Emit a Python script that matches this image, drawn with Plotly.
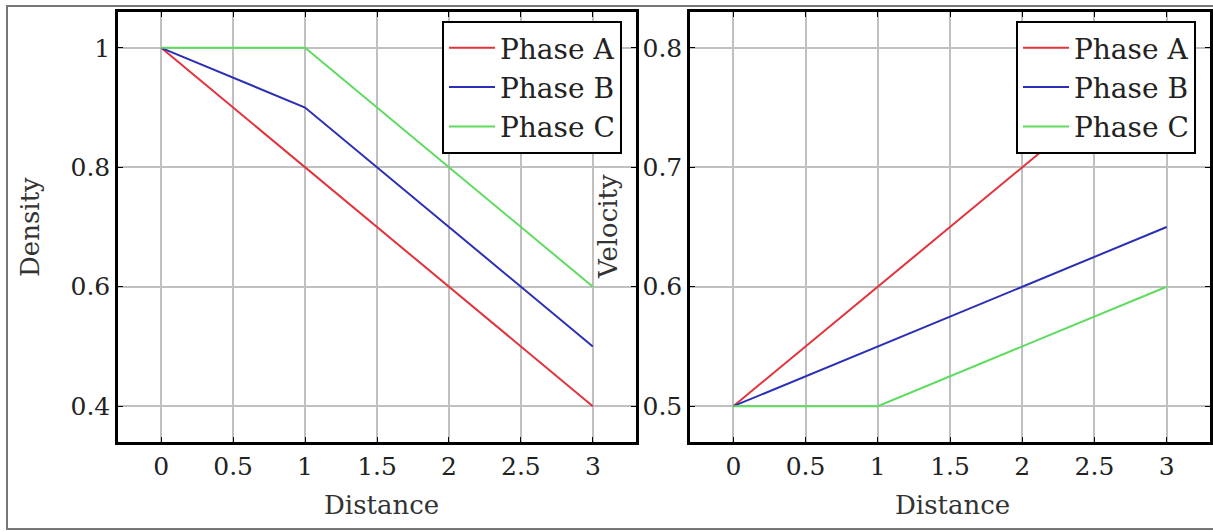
import plotly.graph_objects as go

distance = [0, 1, 2, 3]
series_names = ["Phase A", "Phase B", "Phase C"]
density_a = [1.0, 0.8, 0.6, 0.4]
density_b = [1.0, 0.9, 0.7, 0.5]
density_c = [1.0, 1.0, 0.8, 0.6]
velocity_a = [0.5, 0.6, 0.7, 0.8]
velocity_b = [0.5, 0.55, 0.6, 0.65]
velocity_c = [0.5, 0.5, 0.55, 0.6]
x_ticks = [0, 0.5, 1, 1.5, 2, 2.5, 3]
x_tick_text = ["0", "0.5", "1", "1.5", "2", "2.5", "3"]
density_ticks = [0.4, 0.6, 0.8, 1.0]
density_tick_text = ["0.4", "0.6", "0.8", "1"]
velocity_ticks = [0.5, 0.6, 0.7, 0.8]
velocity_tick_text = ["0.5", "0.6", "0.7", "0.8"]

colors = ["#e2323c", "#2b2fb5", "#5fdc5f"]
FONT = "DejaVu Serif"
W, H = 1213, 531

fig = go.Figure()
for name, ys, c in zip(series_names, [density_a, density_b, density_c], colors):
    fig.add_trace(go.Scatter(x=distance, y=ys, mode="lines", name=name,
                             line=dict(color=c, width=2), xaxis="x", yaxis="y",
                             legend="legend"))
for name, ys, c in zip(series_names, [velocity_a, velocity_b, velocity_c], colors):
    fig.add_trace(go.Scatter(x=distance, y=ys, mode="lines", name=name,
                             line=dict(color=c, width=2), xaxis="x2", yaxis="y2",
                             legend="legend2"))

ydom = [1 - 442 / H, 1 - 12 / H]
axis_common = dict(showline=True, linecolor="black", linewidth=2.5, mirror="allticks",
                   ticks="inside", ticklen=5, tickcolor="black", tickwidth=1.2,
                   showgrid=True, gridcolor="#c0c0c0", gridwidth=1.5, zeroline=False,
                   tickfont=dict(family=FONT, size=25, color="#222"))

legend_common = dict(y=1 - 21 / H, xanchor="right", yanchor="top",
                     bgcolor="white", bordercolor="black", borderwidth=2,
                     itemwidth=46,
                     font=dict(family=FONT, size=28, color="#222"), tracegroupgap=0)

fig.update_layout(
    width=W, height=H, margin=dict(l=0, r=0, t=0, b=0),
    plot_bgcolor="white", paper_bgcolor="white",
    xaxis=dict(domain=[118 / W, 636 / W], range=[-0.3, 3.3], tickvals=x_ticks,
               ticktext=x_tick_text, anchor="y", **axis_common),
    yaxis=dict(domain=ydom, range=[0.34, 1.06], tickvals=density_ticks,
               ticktext=density_tick_text, anchor="x", **axis_common),
    xaxis2=dict(domain=[690 / W, 1210 / W], range=[-0.3, 3.3], tickvals=x_ticks,
                ticktext=x_tick_text, anchor="y2", **axis_common),
    yaxis2=dict(domain=ydom, range=[0.47, 0.83], tickvals=velocity_ticks,
                ticktext=velocity_tick_text, anchor="x2", **axis_common),
    legend=dict(x=622 / W, **legend_common),
    legend2=dict(x=1196 / W, **legend_common),
    showlegend=True,
)

title_font = dict(family=FONT, size=26, color="#333")
for text, px, py, ang in [("Density", 30, 227, -90), ("Velocity", 608, 227, -90),
                          ("Distance", 381, 505, 0), ("Distance", 952, 505, 0)]:
    fig.add_annotation(text=text, x=px / W, y=1 - py / H, xref="paper", yref="paper",
                       xanchor="center", yanchor="middle", textangle=ang,
                       showarrow=False, font=title_font)

fig.add_shape(type="rect", xref="paper", yref="paper", x0=7 / W, x1=1.01,
              y0=1 - 529 / H, y1=1 - 6 / H, line=dict(color="#777", width=2),
              fillcolor="rgba(0,0,0,0)", layer="below")

fig.write_html("out.html", config={"displayModeBar": False},
               post_script="document.body.style.margin='0';")
